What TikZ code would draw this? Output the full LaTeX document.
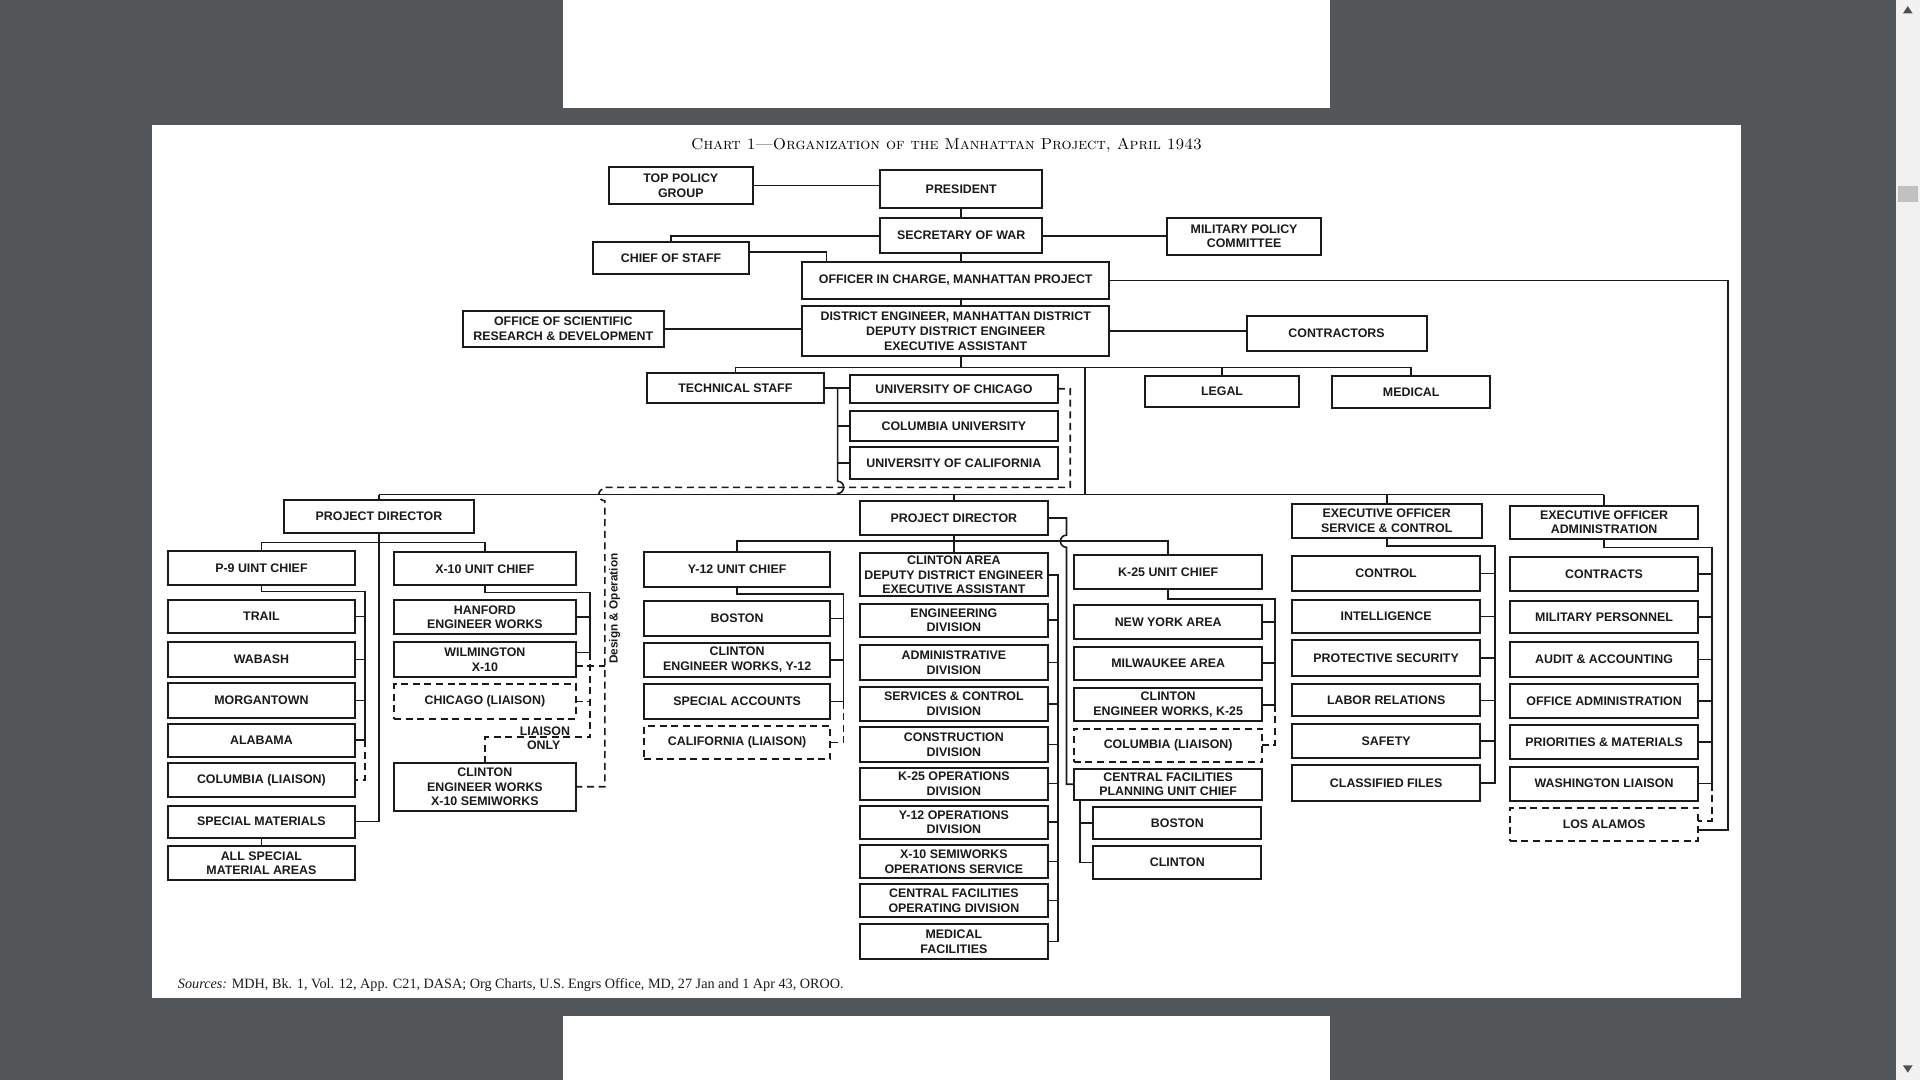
\documentclass[tikz,border=0pt]{standalone}
\usepackage{fontspec}
\newfontfamily\boxfont{Liberation Sans}
\newfontfamily\srcfont{Liberation Serif}
\definecolor{pdfbg}{HTML}{525659}
\definecolor{ink}{HTML}{1A1A1A}
\definecolor{sbar}{HTML}{F1F1F1}
\definecolor{thumb}{HTML}{C1C1C1}
\definecolor{sbarrow}{HTML}{505050}
\tikzset{
  box/.style={draw=ink, line width=1pt, fill=white, inner sep=0pt, outer sep=0pt,
    align=center, text=ink, font={\boxfont\bfseries\fontsize{6.2}{7.4}\selectfont}},
  dsh/.style={dash pattern=on 3.5pt off 2.3pt},
  conn/.style={draw=ink, line width=0.8pt},
  lbl/.style={text=ink, inner sep=0pt, font={\boxfont\bfseries\fontsize{6.2}{7.4}\selectfont}}
}
% \bx[style]{name}{x1}{y1}{x2}{y2}{text}
\newcommand\bx[7][]{\node[box,#1,minimum width={(#5-#3)*0.6122pt},minimum height={(#6-#4)*0.6122pt}] (#2) at ({(#3+#5)/2},{(#4+#6)/2}) {#7};}
\begin{document}
\begin{tikzpicture}[x=0.6122pt,y=-0.6122pt]
\useasboundingbox (0,0) rectangle (1568,882);
% viewer background
\fill[pdfbg] (0,0) rectangle (1568,882);
\fill[white] (460,0) rectangle (1086,88);
\fill[white] (124,102) rectangle (1422,815);
\fill[white] (460,830) rectangle (1086,882);
\fill[sbar] (1548,0) rectangle (1568,882);
\fill[thumb] (1550,152) rectangle (1566,165);
\fill[sbarrow] (1558,5) -- (1554,11) -- (1562,11) -- cycle;
\fill[sbarrow] (1558,876) -- (1554,870) -- (1562,870) -- cycle;

% title and source
\node[text=black, inner sep=0pt] (title) at (773,118.5) {\fontsize{7.9}{9}\selectfont\scshape Chart 1---Organization of the Manhattan Project, April 1943};
\node[text=ink, inner sep=0pt, anchor=base west] (src) at (145,807.5) {\srcfont\fontsize{7.1}{8.5}\selectfont\textit{Sources:} MDH, Bk. 1, Vol. 12, App. C21, DASA; Org Charts, U.S. Engrs Office, MD, 27 Jan and 1 Apr 43, OROO.};

% ---------- top ----------
\bx{tpg}{497}{136}{615}{167}{TOP POLICY\\GROUP}
\bx{pres}{719}{139}{851}{170}{PRESIDENT}
\bx{sec}{719}{178}{851}{207}{SECRETARY OF WAR}
\bx{mpc}{953}{178}{1079}{208}{MILITARY POLICY\\COMMITTEE}
\bx{cos}{484}{198}{612}{224}{CHIEF OF STAFF}
\bx{oic}{655}{214}{906}{244}{OFFICER IN CHARGE, MANHATTAN PROJECT}
\bx{de}{655}{250}{906}{291}{DISTRICT ENGINEER, MANHATTAN DISTRICT\\DEPUTY DISTRICT ENGINEER\\EXECUTIVE ASSISTANT}
\bx{osrd}{378}{254}{542}{283}{OFFICE OF SCIENTIFIC\\RESEARCH \& DEVELOPMENT}
\bx{contr}{1018}{258}{1165}{287}{CONTRACTORS}
\bx{tech}{528}{305}{673}{329}{TECHNICAL STAFF}
\bx{uchi}{694}{306}{864}{329}{UNIVERSITY OF CHICAGO}
\bx{colu}{694}{336}{864}{360}{COLUMBIA UNIVERSITY}
\bx{ucal}{694}{365}{864}{391}{UNIVERSITY OF CALIFORNIA}
\bx{legal}{935}{307}{1061}{332}{LEGAL}
\bx{med}{1088}{307}{1217}{333}{MEDICAL}

% ---------- left project director ----------
\bx{pdl}{232}{408}{387}{435}{PROJECT DIRECTOR}
\bx{p9}{137}{450}{290}{478}{P-9 UINT CHIEF}
\bx{trail}{137}{490}{290}{517}{TRAIL}
\bx{wabash}{137}{524}{290}{553}{WABASH}
\bx{morg}{137}{558}{290}{586}{MORGANTOWN}
\bx{alab}{137}{591}{290}{618}{ALABAMA}
\bx{colli}{137}{623}{290}{651}{COLUMBIA (LIAISON)}
\bx{spm}{137}{658}{290}{684}{SPECIAL MATERIALS}
\bx{allsp}{137}{691}{290}{719}{ALL SPECIAL\\MATERIAL AREAS}
\bx{x10}{322}{451}{470}{478}{X-10 UNIT CHIEF}
\bx{hanf}{322}{490}{470}{518}{HANFORD\\ENGINEER WORKS}
\bx{wilm}{322}{524}{470}{553}{WILMINGTON\\X-10}
\bx[dsh]{chili}{322}{559}{470}{587}{CHICAGO (LIAISON)}
\bx{cewx}{322}{623}{470}{662}{CLINTON\\ENGINEER WORKS\\X-10 SEMIWORKS}
\node[lbl] (lia1) at (445,597) {LIAISON};
\node[lbl] (lia2) at (444,609) {ONLY};
\node[lbl, rotate=90, font={\boxfont\bfseries\fontsize{5.9}{7}\selectfont}] (dlab) at (502,497) {Design \& Operation};

% ---------- centre project director ----------
\bx{pdc}{702}{409}{856}{437}{PROJECT DIRECTOR}
\bx{y12}{526}{451}{678}{479}{Y-12 UNIT CHIEF}
\bx{bos1}{526}{491}{678}{519}{BOSTON}
\bx{cewy}{526}{525}{678}{553}{CLINTON\\ENGINEER WORKS, Y-12}
\bx{spac}{526}{559}{678}{587}{SPECIAL ACCOUNTS}
\bx[dsh]{calli}{526}{593}{678}{620}{CALIFORNIA (LIAISON)}
\bx{cla}{702}{452}{856}{487}{CLINTON AREA\\DEPUTY DISTRICT ENGINEER\\EXECUTIVE ASSISTANT}
\bx{eng}{702}{493}{856}{520}{ENGINEERING\\DIVISION}
\bx{adm}{702}{527}{856}{555}{ADMINISTRATIVE\\DIVISION}
\bx{svc}{702}{561}{856}{589}{SERVICES \& CONTROL\\DIVISION}
\bx{con}{702}{594}{856}{622}{CONSTRUCTION\\DIVISION}
\bx{kop}{702}{627}{856}{653}{K-25 OPERATIONS\\DIVISION}
\bx{yop}{702}{658}{856}{685}{Y-12 OPERATIONS\\DIVISION}
\bx{xop}{702}{690}{856}{717}{X-10 SEMIWORKS\\OPERATIONS SERVICE}
\bx{cfop}{702}{722}{856}{749}{CENTRAL FACILITIES\\OPERATING DIVISION}
\bx{medf}{702}{755}{856}{783}{MEDICAL\\FACILITIES}
\bx{k25}{877}{453}{1031}{481}{K-25 UNIT CHIEF}
\bx{nya}{877}{494}{1031}{522}{NEW YORK AREA}
\bx{mil}{877}{528}{1031}{555}{MILWAUKEE AREA}
\bx{cewk}{877}{562}{1031}{589}{CLINTON\\ENGINEER WORKS, K-25}
\bx[dsh]{colli2}{877}{595}{1031}{622}{COLUMBIA (LIAISON)}
\bx{cfpu}{877}{628}{1031}{653}{CENTRAL FACILITIES\\PLANNING UNIT CHIEF}
\bx{bos2}{893}{659}{1030}{685}{BOSTON}
\bx{clin}{893}{691}{1030}{718}{CLINTON}

% ---------- executive officers ----------
\bx{esc}{1055}{412}{1210}{439}{EXECUTIVE OFFICER\\SERVICE \& CONTROL}
\bx{ctrl}{1055}{454}{1209}{483}{CONTROL}
\bx{intel}{1055}{490}{1209}{517}{INTELLIGENCE}
\bx{prot}{1055}{523}{1209}{552}{PROTECTIVE SECURITY}
\bx{labor}{1055}{559}{1209}{585}{LABOR RELATIONS}
\bx{safety}{1055}{591}{1209}{619}{SAFETY}
\bx{clas}{1055}{625}{1209}{654}{CLASSIFIED FILES}
\bx{eoa}{1233}{413}{1387}{440}{EXECUTIVE OFFICER\\ADMINISTRATION}
\bx{contra}{1233}{455}{1387}{483}{CONTRACTS}
\bx{milp}{1233}{491}{1387}{517}{MILITARY PERSONNEL}
\bx{audit}{1233}{524}{1387}{553}{AUDIT \& ACCOUNTING}
\bx{offa}{1233}{559}{1387}{586}{OFFICE ADMINISTRATION}
\bx{prio}{1233}{592}{1387}{620}{PRIORITIES \& MATERIALS}
\bx{wash}{1233}{626}{1387}{654}{WASHINGTON LIAISON}
\bx[dsh]{losa}{1233}{660}{1387}{687}{LOS ALAMOS}

% ---------- connectors: top ----------
\draw[conn] (tpg.east) -- (tpg.east -| pres.west);
\draw[conn] (pres.south) -- (pres.south |- sec.north);
\draw[conn] (sec.east) -- (sec.east -| mpc.west);
\draw[conn] (sec.west) -| (cos.north);
\coordinate (cosk) at (612,206);
\coordinate (oick) at (675,214);
\draw[conn] (cosk) -| (oick);
\draw[conn] (sec.south) -- (sec.south |- oic.north);
\draw[conn] (sec.south |- oic.south) -- (sec.south |- de.north);
\draw[conn] (osrd.east) -- (osrd.east -| de.west);
\draw[conn] (de.east) -- (de.east -| contr.west);
\coordinate (rt) at (1411,678);
\draw[conn] (oic.east) -| (rt) -- (rt -| losa.east);

\coordinate (busA) at (0,300);
\coordinate (busB) at (0,404);
\draw[conn] (tech.north) -- (tech.north |- busA) -- (med.north |- busA) -- (med.north);
\draw[conn] (sec.south |- de.south) -- (sec.south |- busA);
\draw[conn] (legal.north) -- (legal.north |- busA);
\coordinate (dn) at (886,300);
\draw[conn] (dn) -- (dn |- busB);
\draw[conn] (tech.east) -- (tech.east -| uchi.west);
\coordinate (ub) at (684,317);
\draw[conn] (ub) -- (684,393) arc (-90:90:5) -- (ub |- busB);
\draw[conn] (colu.west) -- (colu.west -| ub);
\draw[conn] (ucal.west) -- (ucal.west -| ub);
\draw[conn] (pdl.north |- busB) -- (eoa.north |- busB);
\foreach \n in {pdl,pdc,esc,eoa} \draw[conn] (\n.north) -- (\n.north |- busB);

% design & operation dashed line
\coordinate (dq) at (874,398);
\coordinate (dv) at (494,398);
\draw[conn,dsh] (uchi.east) -| (dq) -- (dv) -- (494,399) arc (-90:-270:5) -- (dv |- cewx.east) -- (cewx.east);

% ---------- left tree ----------
\draw[conn] (pdl.south) |- (spm.east);
\coordinate (lb) at (0,443);
\draw[conn] (p9.north) -- (p9.north |- lb) -- (x10.north |- lb) -- (x10.north);
\draw[conn] (spm.south) -- (allsp.north);
\coordinate (p9v) at (298,483);
\draw[conn] (p9.south) |- (p9v) -- (p9v |- alab.east);
\foreach \n in {trail,wabash,morg,alab} \draw[conn] (\n.east) -- (\n.east -| p9v);
\draw[conn,dsh] (p9v |- alab.east) -- (p9v |- colli.east) -- (colli.east);

\coordinate (x10v) at (482,484);
\coordinate (wt) at ([yshift=3.4pt]wilm.east);
\coordinate (wd) at ([yshift=-3.4pt]wilm.east);
\coordinate (lo) at (0,602);
\draw[conn] (x10.south) |- (x10v) -- (x10v |- wt);
\draw[conn] (hanf.east) -- (hanf.east -| x10v);
\draw[conn] (wt) -- (wt -| x10v);
\draw[conn,dsh] (x10v |- wt) -- (x10v |- lo) -- (cewx.north |- lo) -- (cewx.north);
\draw[conn,dsh] (chili.east) -- (chili.east -| x10v);
\draw[conn,dsh] (wd) -- (wd -| dv);

% ---------- centre tree ----------
\draw[conn] (pdc.south) -- (cla.north);
\coordinate (cb) at (0,442);
\coordinate (pv) at (871,424);
\draw[conn] (y12.north) -- (y12.north |- cb) -- (k25.north |- cb) -- (k25.north);
\draw[conn] (pdc.east) -| (871,437) arc (-90:-270:5) -- (pv |- cfpu.west) -- (cfpu.west);

\coordinate (y12v) at (689,485);
\draw[conn] (y12.south) |- (y12v) -- (y12v |- spac.east);
\foreach \n in {bos1,cewy,spac} \draw[conn] (\n.east) -- (\n.east -| y12v);
\draw[conn,dsh] (y12v |- spac.east) -- (y12v |- calli.east) -- (calli.east);

\coordinate (cv) at (864,470);
\draw[conn] (cla.east) -| (cv |- medf.east) -- (medf.east);
\foreach \n in {eng,adm,svc,con,kop,yop,xop,cfop} \draw[conn] (\n.east) -- (\n.east -| cv);

\coordinate (k25v) at (1041,489);
\draw[conn] (k25.south) |- (k25v) -- (k25v |- cewk.east);
\foreach \n in {nya,mil,cewk} \draw[conn] (\n.east) -- (\n.east -| k25v);
\draw[conn,dsh] (k25v |- cewk.east) -- (k25v |- colli2.east) -- (colli2.east);

\coordinate (cfv) at (882,653);
\draw[conn] (cfv) -- (cfv |- clin.west) -- (clin.west);
\draw[conn] (bos2.west) -- (bos2.west -| cfv);

% ---------- executive officer trees ----------
\coordinate (escv) at (1221,446);
\draw[conn] (esc.south) |- (escv) -- (escv |- clas.east) -- (clas.east);
\foreach \n in {ctrl,intel,prot,labor,safety} \draw[conn] (\n.east) -- (\n.east -| escv);

\coordinate (eoav) at (1398,447);
\coordinate (la) at ([yshift=2pt]losa.east);
\draw[conn] (eoa.south) |- (eoav) -- (eoav |- wash.east);
\foreach \n in {contra,milp,audit,offa,prio,wash} \draw[conn] (\n.east) -- (\n.east -| eoav);
\draw[conn,dsh] (eoav |- wash.east) -- (eoav |- la) -- (la);
\end{tikzpicture}
\end{document}
